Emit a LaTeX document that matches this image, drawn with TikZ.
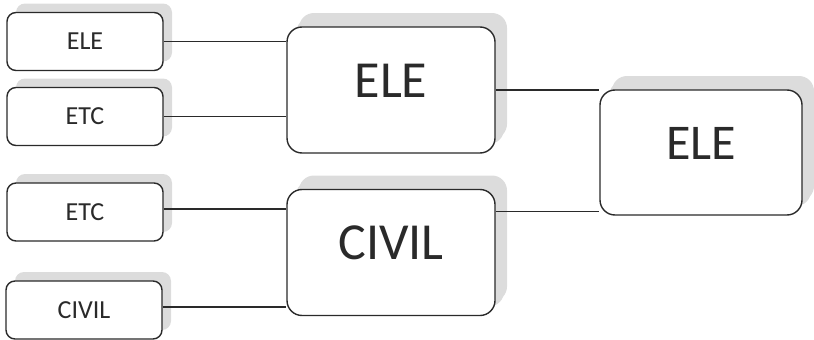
\documentclass[tikz,border=0pt]{standalone}
\usepackage{fontspec}
\setmainfont{Carlito}
\usetikzlibrary{shadows}
\definecolor{ink}{HTML}{2A2A2A}
\definecolor{shade}{HTML}{DCDCDC}
\tikzset{team/.style={draw=ink,line width=1.4pt,rounded corners=9pt,fill=white,text=ink,
  minimum width=156pt,minimum height=58pt,inner sep=0pt,font=\fontsize{26}{26}\selectfont,
  drop shadow={shadow xshift=9pt,shadow yshift=9pt,fill=shade,opacity=1}},
  semi/.style={team,rounded corners=15pt,minimum width=208pt,minimum height=126pt,
  font=\fontsize{52}{52}\selectfont,text height=34pt,text depth=20pt,
  drop shadow={shadow xshift=12pt,shadow yshift=14pt,fill=shade,opacity=1}},
  link/.style={draw=ink,line width=1.3pt}}
\begin{document}
\begin{tikzpicture}[x=1pt,y=-1pt]
\useasboundingbox (0,0) rectangle (814,340);
\node[team] (t1) at (85,41.5) {ELE};
\node[team] (t2) at (85,116.5) {ETC};
\node[team] (t3) at (85,212) {ETC};
\node[team] (t4) at (84,310) {CIVIL};
\node[semi] (s1) at (391,90) {ELE};
\node[semi] (s2) at (391,252.5) {CIVIL};
\node[semi,minimum width=202pt,minimum height=125pt,font=\fontsize{50}{50}\selectfont] (fin) at (701,152.5) {ELE};
\draw[link] (t1.east) -- (t1.east -| s1.west);
\draw[link] (t2.east) -- (t2.east -| s1.west);
\draw[link] ([yshift=3pt]t3.east) -- ([yshift=3pt]t3.east -| s2.west);
\draw[link] ([yshift=3pt]t4.east) -- ([yshift=3pt]t4.east -| s2.west);
\draw[link] (s1.east) -- (s1.east -| fin.west);
\draw[link] ([yshift=4pt]fin.south west -| s2.east) -- ([yshift=4pt]fin.south west);
\end{tikzpicture}
\end{document}
